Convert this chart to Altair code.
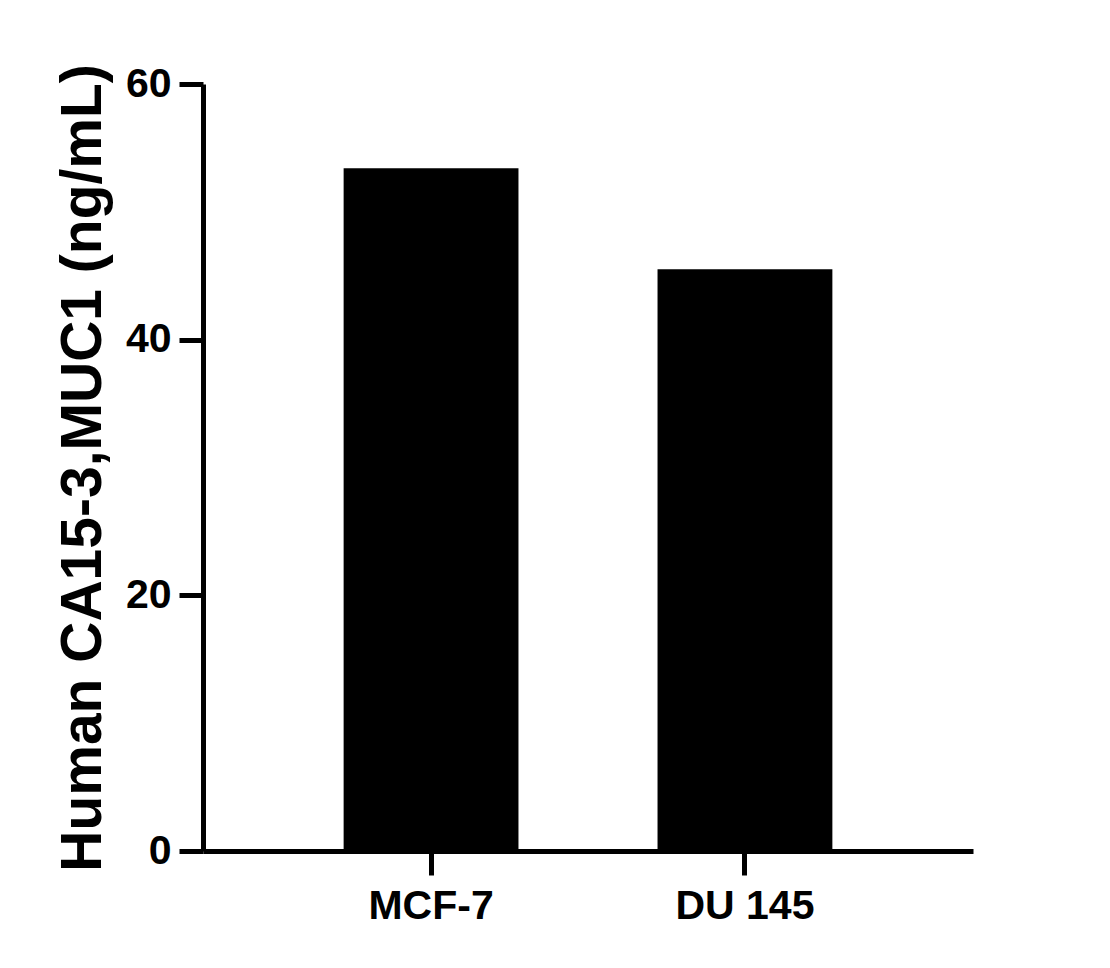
import altair as alt
import pandas as pd

categories = ["MCF-7", "DU 145"]
values = [53.4, 45.5]

df = pd.DataFrame({"cell": categories, "conc": values})

FONT = "Liberation Sans"

chart = alt.Chart(df).mark_bar(color="black").encode(
    x=alt.X(
        "cell:N",
        sort=categories,
        scale=alt.Scale(paddingInner=0.443, paddingOuter=0.448),
        axis=alt.Axis(
            title=None,
            labelAngle=0,
            labelFont=FONT,
            labelFontSize=41,
            labelFontWeight="bold",
            labelColor="black",
            labelPadding=11,
            tickSize=24,
            tickWidth=5,
            tickColor="black",
            domainWidth=5,
            domainColor="black",
        ),
    ),
    y=alt.Y(
        "conc:Q",
        scale=alt.Scale(domain=[0, 60], nice=False),
        axis=alt.Axis(
            title="Human CA15-3,MUC1 (ng/mL)",
            values=[0, 20, 40, 60],
            grid=False,
            labelFont=FONT,
            labelFontSize=41,
            labelFontWeight="bold",
            labelColor="black",
            labelPadding=8,
            tickSize=24,
            tickWidth=5,
            tickColor="black",
            domainWidth=5,
            domainColor="black",
            titleFont=FONT,
            titleFontSize=57,
            titleFontWeight="bold",
            titleColor="black",
            titleX=-103,
            titleBaseline="alphabetic",
        ),
    ),
).properties(
    width=770,
    height=767,
    background="white",
    autosize=alt.AutoSizeParams(type="none"),
    padding={"left": 195, "top": 76, "right": 120, "bottom": 100},
).configure_view(strokeWidth=0, stroke=None)

chart.save("out.html", embed_options={"renderer": "svg", "actions": False})
